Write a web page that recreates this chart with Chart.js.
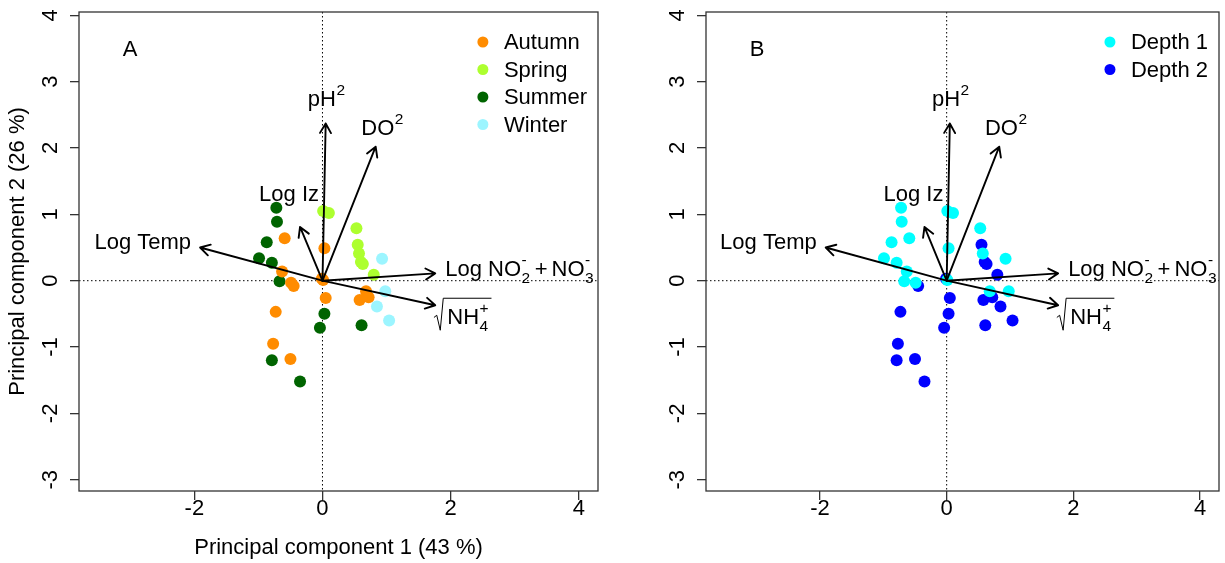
<!DOCTYPE html>
<html>
<head>
<meta charset="utf-8">
<script src="https://cdn.jsdelivr.net/npm/chart.js@4.4.1/dist/chart.umd.min.js"></script>
<style>
  html, body { margin: 0; padding: 0; background: #fff; }
  #wrap { position: relative; width: 1225px; height: 563px; overflow: hidden; }
  canvas { position: absolute; top: 0; }
  #panelA { left: 0; }
  #panelB { left: 612px; }
</style>
</head>
<body>
<div id="wrap">
  <canvas id="panelA" width="612" height="563"></canvas>
  <canvas id="panelB" width="613" height="563"></canvas>
</div>
<script>
const FONT = '"Liberation Sans", Arial, Helvetica, sans-serif';

// Sample scores on the first two principal components
const pc1 = [-0.72, -0.71, -0.87, -0.99, -0.79, -0.67, 0.03, -0.04, 0.61, -0.79, -0.35,
             -0.59, 0.03, -0.63, -0.49, -0.45, 0.01, -0.01, 0.05, 0.68, 0.58, 0.72, -0.73, -0.77, -0.50,
             0.01, 0.10, 0.53, 0.55, 0.57, 0.60, 0.63, 0.80,
             0.93, 0.98, 0.85, 1.04];
const pc2 = [1.10, 0.89, 0.58, 0.34, 0.27, -0.01, -0.50, -0.71, -0.67, -1.20, -1.52,
             0.64, 0.49, 0.14, -0.03, -0.08, 0.01, 0.03, -0.26, -0.16, -0.29, -0.25, -0.47, -0.95, -1.18,
             1.05, 1.02, 0.79, 0.54, 0.41, 0.28, 0.25, 0.09,
             0.33, -0.16, -0.39, -0.60];
const season = ['Summer','Summer','Summer','Summer','Summer','Summer','Summer','Summer','Summer','Summer','Summer',
                'Autumn','Autumn','Autumn','Autumn','Autumn','Autumn','Autumn','Autumn','Autumn','Autumn','Autumn','Autumn','Autumn','Autumn',
                'Spring','Spring','Spring','Spring','Spring','Spring','Spring','Spring',
                'Winter','Winter','Winter','Winter'];
const depth = ['Depth 1','Depth 1','Depth 1','Depth 1','Depth 1','Depth 1','Depth 2','Depth 2','Depth 2','Depth 2','Depth 2',
               'Depth 1','Depth 1','Depth 1','Depth 1','Depth 2','Depth 1','Depth 2','Depth 2','Depth 1','Depth 2','Depth 2','Depth 2','Depth 2','Depth 2',
               'Depth 1','Depth 1','Depth 1','Depth 2','Depth 1','Depth 2','Depth 2','Depth 2',
               'Depth 1','Depth 1','Depth 2','Depth 2'];

const seasonNames = ['Autumn', 'Spring', 'Summer', 'Winter'];
const seasonColors = ['#FF8C00', '#ADFF2F', '#006400', '#9CF5FF'];
const depthNames = ['Depth 1', 'Depth 2'];
const depthColors = ['#00FFFF', '#0000FF'];

// Variable loadings (arrow tips)
const loadPC1 = [0.05, 0.83, -0.35, -1.91, 1.76, 1.76];
const loadPC2 = [2.37, 2.02, 0.81, 0.50, 0.11, -0.37];
const varLabels = [
  [{ t: 'pH' }, { sup: '2' }],
  [{ t: 'DO' }, { sup: '2' }],
  [{ t: 'Log Iz' }],
  [{ t: 'Log Temp' }],
  [{ t: 'Log NO' }, { sub: '2', sup: '-' }, { gap: 4 }, { t: '+' }, { gap: 4 }, { t: 'NO' }, { sub: '3', sup: '-' }],
  [{ sqrt: [{ t: 'NH' }, { sub: '4', sup: '+' }] }]
];

const xTicks = [-2, 0, 2, 4];
const yTicks = [-3, -2, -1, 0, 1, 2, 3, 4];
const xRange = [-3.8, 4.3];
const yRange = [-3.17, 4.05];

// Label placement relative to each arrow tip (pixels)
const labelPlace = [
  { align: 'center', dx: 1, dy: -17 },
  { align: 'center', dx: 7, dy: -12 },
  { align: 'center', dx: -11, dy: -26 },
  { align: 'right', dx: -9, dy: 1 },
  { align: 'left', dx: 10, dy: 3 },
  { align: 'left', dx: -1, dy: 19 }
];

const BASE = 22, SMALL = 15.5;
const fnt = s => s + 'px ' + FONT;

function measureParts(ctx, parts) {
  let w = 0;
  for (const p of parts) {
    if (p.t !== undefined) { ctx.font = fnt(BASE); w += ctx.measureText(p.t).width; }
    else if (p.gap !== undefined) { w += p.gap; }
    else if (p.sqrt) { w += 13 + measureParts(ctx, p.sqrt) + 2; }
    else {
      ctx.font = fnt(SMALL);
      w += Math.max(p.sub ? ctx.measureText(p.sub).width : 0, p.sup ? ctx.measureText(p.sup).width : 0) + 1;
    }
  }
  return w;
}

function drawParts(ctx, parts, x, yb) {
  for (const p of parts) {
    if (p.t !== undefined) {
      ctx.font = fnt(BASE); ctx.fillText(p.t, x, yb); x += ctx.measureText(p.t).width;
    } else if (p.gap !== undefined) {
      x += p.gap;
    } else if (p.sqrt) {
      const inner = measureParts(ctx, p.sqrt);
      ctx.lineWidth = 1;
      ctx.beginPath();
      ctx.moveTo(x, yb - 7);
      ctx.lineTo(x + 2.5, yb - 9);
      ctx.lineTo(x + 6, yb + 6);
      ctx.lineTo(x + 9, yb - 26);
      ctx.lineTo(x + 13 + inner + 2, yb - 26);
      ctx.stroke();
      drawParts(ctx, p.sqrt, x + 13, yb);
      x += 13 + inner + 2;
    } else {
      ctx.font = fnt(SMALL);
      let w = 0;
      if (p.sub) { ctx.fillText(p.sub, x + 0.5, yb + 7); w = Math.max(w, ctx.measureText(p.sub).width); }
      if (p.sup) { ctx.fillText(p.sup, x + 0.5, yb - 11); w = Math.max(w, ctx.measureText(p.sup).width); }
      x += w + 1;
    }
  }
}

function drawArrow(ctx, x0, y0, x1, y1) {
  const ang = Math.atan2(y1 - y0, x1 - x0);
  const L = 11, h = Math.PI / 6;
  ctx.beginPath();
  ctx.moveTo(x0, y0); ctx.lineTo(x1, y1);
  ctx.moveTo(x1 - L * Math.cos(ang - h), y1 - L * Math.sin(ang - h));
  ctx.lineTo(x1, y1);
  ctx.lineTo(x1 - L * Math.cos(ang + h), y1 - L * Math.sin(ang + h));
  ctx.stroke();
}

const biplot = {
  id: 'biplot',
  beforeDatasetsDraw(chart) {
    const { ctx, chartArea: a, scales: { x, y } } = chart;
    const x0 = x.getPixelForValue(0), y0 = y.getPixelForValue(0);
    ctx.save();
    ctx.strokeStyle = '#000'; ctx.lineWidth = 1; ctx.setLineDash([1.5, 2.5]);
    ctx.beginPath();
    ctx.moveTo(x0, a.top); ctx.lineTo(x0, a.bottom);
    ctx.moveTo(a.left, y0); ctx.lineTo(a.right, y0);
    ctx.stroke();
    ctx.restore();
  },
  afterDatasetsDraw(chart) {
    const { ctx, scales: { x, y } } = chart;
    const ox = x.getPixelForValue(0), oy = y.getPixelForValue(0);
    ctx.save();
    ctx.strokeStyle = '#000'; ctx.fillStyle = '#000';
    ctx.lineCap = 'round'; ctx.lineJoin = 'round';
    loadPC1.forEach((v, i) => {
      const tx = x.getPixelForValue(v), ty = y.getPixelForValue(loadPC2[i]);
      ctx.lineWidth = 1.9;
      drawArrow(ctx, ox, oy, tx, ty);
      const lp = labelPlace[i];
      const w = measureParts(ctx, varLabels[i]);
      let sx = tx + lp.dx;
      if (lp.align === 'center') sx -= w / 2;
      else if (lp.align === 'right') sx -= w;
      ctx.textAlign = 'left'; ctx.textBaseline = 'alphabetic';
      drawParts(ctx, varLabels[i], sx, ty + lp.dy);
    });
    ctx.restore();
  },
  afterDraw(chart, args, opts) {
    const { ctx, chartArea: a, scales: { y } } = chart;
    ctx.save();
    // frame
    ctx.strokeStyle = '#333'; ctx.lineWidth = 1.3;
    ctx.strokeRect(a.left, a.top, a.right - a.left, a.bottom - a.top);
    // y tick labels, written along the axis
    ctx.fillStyle = '#000'; ctx.font = fnt(22);
    ctx.textAlign = 'center'; ctx.textBaseline = 'middle';
    yTicks.forEach(v => {
      ctx.save();
      ctx.translate(a.left - 28, y.getPixelForValue(v));
      ctx.rotate(-Math.PI / 2);
      ctx.fillText(String(v), 0, 0);
      ctx.restore();
    });
    // axis titles
    if (opts.xTitle) {
      ctx.fillText(opts.xTitle, (a.left + a.right) / 2, a.bottom + 57);
    }
    if (opts.yTitle) {
      ctx.save();
      ctx.translate(a.left - 61, (a.top + a.bottom) / 2);
      ctx.rotate(-Math.PI / 2);
      ctx.fillText(opts.yTitle, 0, 0);
      ctx.restore();
    }
    // panel letter
    ctx.fillText(opts.letter, a.left + 51, a.top + 38);
    // legend
    const ds = chart.data.datasets;
    ctx.font = fnt(22);
    const maxW = Math.max(...ds.map(d => ctx.measureText(d.label).width));
    const tx = a.right - maxW - 11;
    const mx = tx - 21;
    ds.forEach((d, i) => {
      const yy = a.top + 30 + i * 27.5;
      ctx.fillStyle = d.backgroundColor;
      ctx.beginPath(); ctx.arc(mx, yy, 5.5, 0, Math.PI * 2); ctx.fill();
      ctx.fillStyle = '#000'; ctx.textAlign = 'left';
      ctx.fillText(d.label, tx, yy + 1);
    });
    ctx.restore();
  }
};

function groupDatasets(groupOf, names, colors) {
  return names.map((name, i) => ({
    label: name,
    data: pc1.map((v, k) => ({ x: v, y: pc2[k], g: groupOf[k] })).filter(p => p.g === name),
    backgroundColor: colors[i],
    borderColor: colors[i],
    borderWidth: 0,
    pointRadius: 6,
    pointHoverRadius: 6
  }));
}

function makeChart(id, datasets, axisWidth, rightPad, opts) {
  return new Chart(document.getElementById(id), {
    type: 'scatter',
    data: { datasets },
    plugins: [biplot],
    options: {
      responsive: false,
      devicePixelRatio: 1,
      animation: false,
      events: [],
      layout: { padding: { left: 0, right: rightPad, top: 12, bottom: 0 } },
      plugins: { legend: { display: false }, tooltip: { enabled: false }, biplot: opts },
      scales: {
        x: {
          type: 'linear', min: xRange[0], max: xRange[1],
          afterBuildTicks: s => { s.ticks = xTicks.map(v => ({ value: v })); },
          afterFit: s => { s.height = 72; },
          grid: { drawOnChartArea: false, drawTicks: true, tickLength: 9, color: '#333', lineWidth: 1.3 },
          border: { display: false },
          ticks: { color: '#000', font: { family: FONT, size: 22, lineHeight: 1 }, padding: -2,
                   maxRotation: 0, autoSkip: false, callback: v => String(v) }
        },
        y: {
          type: 'linear', min: yRange[0], max: yRange[1],
          afterBuildTicks: s => { s.ticks = yTicks.map(v => ({ value: v })); },
          afterFit: s => { s.width = axisWidth; },
          grid: { drawOnChartArea: false, drawTicks: true, tickLength: 9, color: '#333', lineWidth: 1.3 },
          border: { display: false },
          ticks: { display: false }
        }
      }
    }
  });
}

makeChart('panelA', groupDatasets(season, seasonNames, seasonColors), 79, 14,
  { letter: 'A', xTitle: 'Principal component 1 (43 %)', yTitle: 'Principal component 2 (26 %)' });
makeChart('panelB', groupDatasets(depth, depthNames, depthColors), 94, 4,
  { letter: 'B' });
</script>
</body>
</html>
